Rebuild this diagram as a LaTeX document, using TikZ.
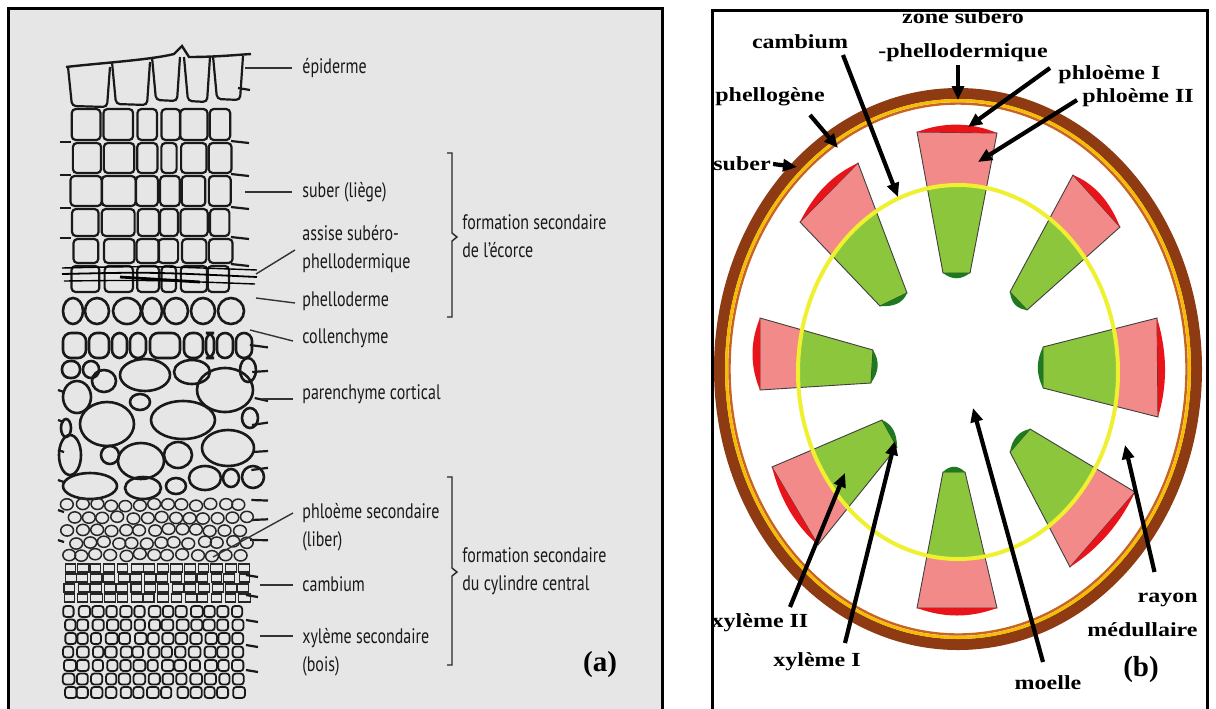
\documentclass[tikz,border=0pt]{standalone}
\usepackage{fontspec}
\usetikzlibrary{arrows.meta,calc}
\newfontfamily\labfont[FakeStretch=0.76]{PT Sans}
\newfontfamily\bfs[FakeStretch=1.2]{Liberation Serif}
\newfontfamily\tagfont{Liberation Serif}
\definecolor{panelgrey}{HTML}{E6E6E6}
\definecolor{brownring}{HTML}{8E3A12}
\definecolor{ringyellow}{HTML}{F5BC00}
\definecolor{ringorange}{HTML}{C8641E}
\definecolor{camyellow}{HTML}{EEF030}
\definecolor{phlpink}{HTML}{F28A8A}
\definecolor{xylgreen}{HTML}{8CC63C}
\definecolor{capred}{HTML}{E8141A}
\definecolor{capgreen}{HTML}{1E7A1E}
\begin{document}
\begin{tikzpicture}[x=0.5pt,y=-0.5pt,
  lab/.style={font=\labfont\fontsize{10.5}{14}\selectfont, inner sep=0pt, anchor=west, align=left, text=black!90},
  blab/.style={font=\bfs\bfseries\fontsize{10}{17}\selectfont, inner sep=0pt},
  tag/.style={font=\tagfont\bfseries\fontsize{14.5}{16}\selectfont, inner sep=0pt},
  leader/.style={line width=0.7pt, black!80},
  arr/.style={line width=2.1pt, -{Triangle[length=7pt,width=6pt]}},
  cw/.style={line width=1.1pt, rounded corners=2pt, black!90},
  cwt/.style={line width=1.3pt, black!90},
  thincell/.style={line width=0.75pt, black!85},
  bracket/.style={line width=0.7pt, black!85}]
\useasboundingbox (0,0) rectangle (1216,708);
\fill[white] (0,0) rectangle (1216,708);
% panels
\draw[fill=panelgrey, line width=1.5pt] (8,8) rectangle (662,730);
\draw[fill=white, line width=1.5pt] (712,10) rectangle (1207,730);

\pgfmathsetseed{7}
% ---------- tissue (a) ----------
% epidermis
\draw[cwt, line width=1.2pt] (66,67) .. controls (100,63) and (150,60) .. (174,54) -- (182,46) -- (189,57) .. controls (215,57) and (235,55) .. (251,54);
\foreach \a/\b/\t/\u in {68/110/67/106, 112/150/62/104, 152/180/57/100, 184/210/57/101, 213/243/56/99}
  \draw[cw] (\a,\t) -- (\a+4,\u) -- (\b-3,\u+1) -- (\b,\t);
\draw[cw] (238,88) -- (250,90);
% suber rows
\foreach \ya/\yb in {109/140,143/173,176/206,209/236,239/263,266/292}{
  \foreach \a/\b in {72/100,103/134,137/157,160/178,181/206,209/231}{
    \pgfmathsetmacro\ja{rand*2}\pgfmathsetmacro\jb{rand*2}
    \draw[cw] (\a+\ja,\ya) rectangle (\b+\jb,\yb);
  }}
\foreach \y in {141,174,207,237,264} \draw[cw] (231,\y) -- (249,\y+2);
\foreach \y in {142,175,208,238} \draw[cw] (60,\y) -- (71,\y);
% assise lines
\draw[line width=0.7pt] (62,268) .. controls (150,266) .. (257,270);
\draw[line width=0.9pt] (62,274) .. controls (150,272) .. (257,277);
\draw[line width=0.7pt] (64,281) .. controls (150,280) .. (255,284);
\draw[line width=1.4pt] (120,277) -- (200,282);
% phelloderme
\foreach \ex/\er in {73/10,97/12,127/14,152/10,176/12,203/12,231/13}
  \draw[cwt] (\ex,311) ellipse [x radius=\er, y radius=13];
% collenchyme
\foreach \a/\b in {63/86,89/109,112/127,130/146,150/180,184/203,206/214,217/233,236/252}
  \draw[cwt, rounded corners=4pt] (\a,333) rectangle (\b,358);
\foreach \a/\b in {62/80,83/99}
  \draw[cwt, rounded corners=4pt] (\a,361) rectangle (\b,378);
% parenchyme
\foreach \ex/\ey/\erx/\ery in {145/375/25/16, 192/372/18/12, 225/390/28/22, 107/424/27/22, 183/420/32/19,
  228/448/26/18, 141/461/23/18, 178/455/14/13, 90/486/27/13, 70/455/11/20, 77/397/14/16, 104/381/12/11,
  140/402/10/8, 248/370/8/12, 253/477/11/11, 143/488/18/11, 250/418/8/10, 205/478/16/12, 110/455/9/9,
  66/428/5/9, 176/486/10/8, 231/478/8/9}
  \draw[cwt] (\ex,\ey) ellipse [x radius=\erx, y radius=\ery];
\foreach \y in {345,372,398,425,452,470,500,520,540}
  \draw[cw] (252+rand*3,\y) -- (268,\y+rand*3);
\foreach \y in {390,420,450,480,510,540}
  \draw[cw] (58,\y) -- (64,\y+2);
% phloem
\foreach \j in {0,...,4}{\foreach \i in {0,...,12}{
  \pgfmathsetmacro\px{68+\i*14.3+mod(\j,2)*7+rand*1.5}
  \pgfmathsetmacro\py{505+\j*12.5+rand*1.2}
  \draw[thincell] (\px,\py) ellipse [x radius=6.4, y radius=5.6];}}
% cambium
\foreach \j in {0,...,3}{\foreach \i in {0,...,13}{
  \pgfmathsetmacro\kx{64+\i*13.4+rand*1.2}
  \draw[line width=0.55pt, black!85] (\kx,564+\j*10) rectangle ++(11+rand*0.8,8);}}
% xylem
\foreach \j in {0,...,6}{\foreach \i in {0,...,12}{
  \pgfmathsetmacro\qx{64+\i*14+rand*1.5}
  \draw[line width=0.9pt, rounded corners=1.5pt, black!90] (\qx,606+\j*13.5) rectangle ++(11+rand,11);}}
\foreach \y in {575,595,620,645,670} \draw[cw] (246,\y) -- (258,\y+2);

% ---------- labels (a) ----------
\node[lab] (lepi) at (302,68) {épiderme};
\node[lab] (lsube) at (302,192) {suber (liège)};
\node[lab] (lass) at (302,249) {assise subéro-\\phellodermique};
\node[lab] (lphd) at (302,301) {phelloderme};
\node[lab] (lcol) at (302,338) {collenchyme};
\node[lab] (lpar) at (302,394) {parenchyme cortical};
\node[lab] (lphs) at (302,527) {phloème secondaire\\(liber)};
\node[lab] (lcam) at (302,584) {cambium};
\node[lab] (lxys) at (302,652) {xylème secondaire\\(bois)};
\node[lab] (lf1) at (462,236) {formation secondaire\\de l’écorce};
\node[lab] (lf2) at (462,571) {formation secondaire\\du cylindre central};
\node[tag] (ta) at (600,665) {(a)};

\coordinate (pepi) at (245,68);
\coordinate (psub) at (245,192);
\coordinate (pass) at (256,274);
\coordinate (pphd) at (256,298);
\coordinate (pcol) at (250,330);
\coordinate (ppar) at (262,399);
\coordinate (pphs) at (213,557);
\coordinate (pcam) at (260,585);
\coordinate (pxys) at (260,636);
\draw[leader] (pepi) -- ($(lepi.west)+(-10,0)$);
\draw[leader] (psub) -- ($(lsube.west)+(-10,0)$);
\draw[leader] (pass) -- ($(lass.west)+(-7,1)$);
\draw[leader] (pphd) -- ($(lphd.west)+(-7,2)$);
\draw[leader] (pcol) -- ($(lcol.west)+(-9,3)$);
\draw[leader] (ppar) -- ($(lpar.west)+(-9,5)$);
\draw[leader] (pphs) -- ($(lphs.west)+(-9,-14)$);
\draw[leader] (pcam) -- ($(lcam.west)+(-9,1)$);
\draw[leader] (pxys) -- ($(lxys.west)+(-9,-16)$);
\draw[bracket] (447,153) -- (452,153) -- (452,233) -- (457,237) -- (452,241) -- (452,317) -- (447,317);
\draw[bracket] (447,477) -- (452,477) -- (452,568) -- (457,572) -- (452,576) -- (452,665) -- (447,665);

% ---------- panel (b) ----------
\draw[brownring, line width=5.5pt] (958,369) ellipse [x radius=238.5, y radius=275.5];
\draw[ringyellow, line width=1.5pt] (958,369) ellipse [x radius=231.5, y radius=268.5];
\draw[ringorange, line width=1.2pt] (958,369) ellipse [x radius=228.5, y radius=265.5];

\def\wedgelist{917/132/997/133/970/273/943/273/943/122/971/122/961/280/952/280,
1073/175/1120/227/1027/310/1010/292/1095/184/1110/202/1017/309/1011/303,
1157/318/1158/417/1043/388/1043/347/1167/351/1168/384/1036/374/1036/361,
1135/492/1070/567/1010/452/1030/429/1120/524/1098/549/1012/439/1019/431,
997/608/917/608/943/472/965/472/970/618/944/618/950/465/958/465,
818/545/772/467/882/420/897/447/795/525/780/499/892/424/897/433,
760/390/760/318/873/350/871/383/750/366/750/342/880/361/879/372,
800/222/858/163/907/293/880/306/814/194/832/175/903/303/894/307}

\foreach \Ax/\Ay/\Bx/\By/\Cx/\Cy/\Dx/\Dy/\Px/\Py/\Qx/\Qy/\Rx/\Ry/\Sx/\Sy in \wedgelist
  \fill[phlpink] (\Ax,\Ay) -- (\Bx,\By) -- (\Cx,\Cy) -- (\Dx,\Dy) -- cycle;
\begin{scope}
  \clip (958,372) ellipse [x radius=160, y radius=187];
  \foreach \Ax/\Ay/\Bx/\By/\Cx/\Cy/\Dx/\Dy/\Px/\Py/\Qx/\Qy/\Rx/\Ry/\Sx/\Sy in \wedgelist
    \fill[xylgreen] (\Ax,\Ay) -- (\Bx,\By) -- (\Cx,\Cy) -- (\Dx,\Dy) -- cycle;
\end{scope}
\foreach \Ax/\Ay/\Bx/\By/\Cx/\Cy/\Dx/\Dy/\Px/\Py/\Qx/\Qy/\Rx/\Ry/\Sx/\Sy in \wedgelist{
  \draw[line width=0.45pt, black!75] (\Ax,\Ay) -- (\Bx,\By) -- (\Cx,\Cy) -- (\Dx,\Dy) -- cycle;
  \fill[capred] (\Ax,\Ay) .. controls (\Px,\Py) and (\Qx,\Qy) .. (\Bx,\By) -- cycle;
  \fill[capgreen] (\Cx,\Cy) .. controls (\Rx,\Ry) and (\Sx,\Sy) .. (\Dx,\Dy) -- cycle;
}
\draw[camyellow, line width=2pt] (958,372) ellipse [x radius=160, y radius=187];

% labels (b)
\node[blab, align=center] (lzone) at (963,36) {zone subéro\\-phellodermique};
\node[blab] (lcamb) at (800,42) {cambium};
\node[blab] (lphg) at (770,97) {phellogène};
\node[blab] (lsub) at (742,164) {suber};
\node[blab, anchor=west] (lph1) at (1058,75) {phloème I};
\node[blab, anchor=west] (lph2) at (1082,98) {phloème II};
\node[blab] (lxy2) at (760,623) {xylème II};
\node[blab] (lxy1) at (817,662) {xylème I};
\node[blab] (lmoe) at (1048,683) {moelle};
\node[blab, align=right, anchor=east] (lray) at (1198,615) {rayon\\médullaire};
\node[tag] (tb) at (1141,670) {(b)};

\coordinate (tzone) at (958,100);
\coordinate (tcamb) at (898,197);
\coordinate (tphg) at (838,148);
\coordinate (tsub) at (797,167);
\coordinate (tph1) at (968,127);
\coordinate (tph2) at (978,162);
\coordinate (txy2) at (845,473);
\coordinate (txy1) at (895,441);
\coordinate (tmoe) at (973,408);
\coordinate (tray) at (1125,445);
\draw[arr] ($(lzone.south)+(-5,3)$) -- (tzone);
\draw[arr] ($(lcamb.center)+(43,13)$) -- (tcamb);
\draw[arr] ($(lphg.center)+(40,18)$) -- (tphg);
\draw[arr] ($(lsub.east)+(2,0)$) -- (tsub);
\draw[arr] ($(lph1.west)+(-8,-7)$) -- (tph1);
\draw[arr] ($(lph2.west)+(-5,2)$) -- (tph2);
\draw[arr] ($(lxy2.center)+(30,-16)$) -- (txy2);
\draw[arr] ($(lxy1.center)+(28,-19)$) -- (txy1);
\draw[arr] ($(lmoe.center)+(-5,-21)$) -- (tmoe);
\draw[arr] ($(lray.center)+(12,-43)$) -- (tray);
\end{tikzpicture}
\end{document}
